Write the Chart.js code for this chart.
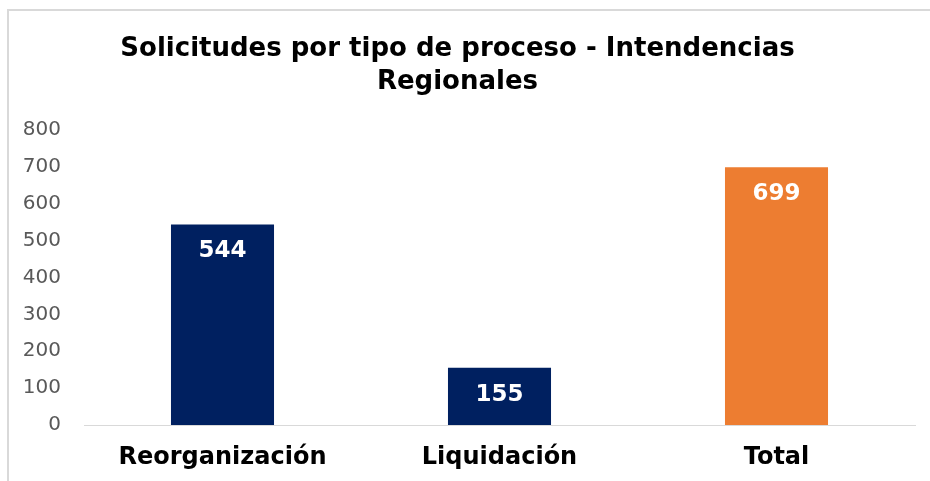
<!DOCTYPE html>
<html>
<head>
<meta charset="utf-8">
<script src="https://cdn.jsdelivr.net/npm/chart.js@4"></script>
<style>
  html, body { margin: 0; padding: 0; background: #fff; }
  #wrap { width: 930px; height: 481px; position: relative; }
</style>
</head>
<body>
<div id="wrap"><canvas id="procesosChart" width="930" height="481"></canvas></div>
<script>
// data
const categories = ['Reorganización', 'Liquidación', 'Total'];
const solicitudes = [544, 155, 699];
const barColors = ['#002060', '#002060', '#ED7D31'];
const titleLines = ['Solicitudes por tipo de proceso - Intendencias', 'Regionales'];

const FONT = "'DejaVu Sans', Verdana, sans-serif";

// light frame on the left and top, like the copied office chart
const framePlugin = {
  id: 'frame',
  beforeDraw(chart) {
    const c = chart.ctx;
    c.save();
    c.strokeStyle = '#d9d9d9';
    c.lineWidth = 2;
    c.beginPath();
    c.moveTo(8, 481);
    c.lineTo(8, 10);
    c.lineTo(930, 10);
    c.stroke();
    c.restore();
  }
};

// white bold value inside the top of each bar
const valueLabels = {
  id: 'valueLabels',
  afterDatasetsDraw(chart) {
    const c = chart.ctx;
    const meta = chart.getDatasetMeta(0);
    c.save();
    c.fillStyle = '#ffffff';
    c.font = 'bold 23px ' + FONT;
    c.textAlign = 'center';
    c.textBaseline = 'middle';
    meta.data.forEach((bar, i) => {
      c.fillText(solicitudes[i], bar.x, bar.y + 27);
    });
    c.restore();
  }
};

const ctx = document.getElementById('procesosChart').getContext('2d');

new Chart(ctx, {
  type: 'bar',
  data: {
    labels: categories,
    datasets: [{
      data: solicitudes,
      backgroundColor: barColors,
      barPercentage: 0.372,
      categoryPercentage: 1
    }]
  },
  options: {
    responsive: false,
    animation: false,
    layout: { padding: { left: 0, right: 15, top: 0, bottom: 0 } },
    scales: {
      x: {
        grid: { display: false, drawTicks: false },
        border: { display: true, color: '#d9d9d9', width: 1 },
        ticks: {
          color: '#000000',
          font: { family: FONT, size: 24, weight: 'bold' },
          padding: 18
        },
        afterFit(scale) { scale.height = 56; }
      },
      y: {
        min: 0,
        max: 800,
        grid: { display: false, drawTicks: false },
        border: { display: false },
        ticks: {
          stepSize: 100,
          color: '#595959',
          font: { family: FONT, size: 20 },
          padding: 23
        },
        afterFit(scale) { scale.width = 84; }
      }
    },
    plugins: {
      legend: { display: false },
      tooltip: { enabled: false },
      title: {
        display: true,
        text: titleLines,
        color: '#000000',
        font: { family: FONT, size: 26, weight: 'bold', lineHeight: 1.27 },
        padding: { top: 33, bottom: 31 }
      }
    }
  },
  plugins: [framePlugin, valueLabels]
});
</script>
</body>
</html>
